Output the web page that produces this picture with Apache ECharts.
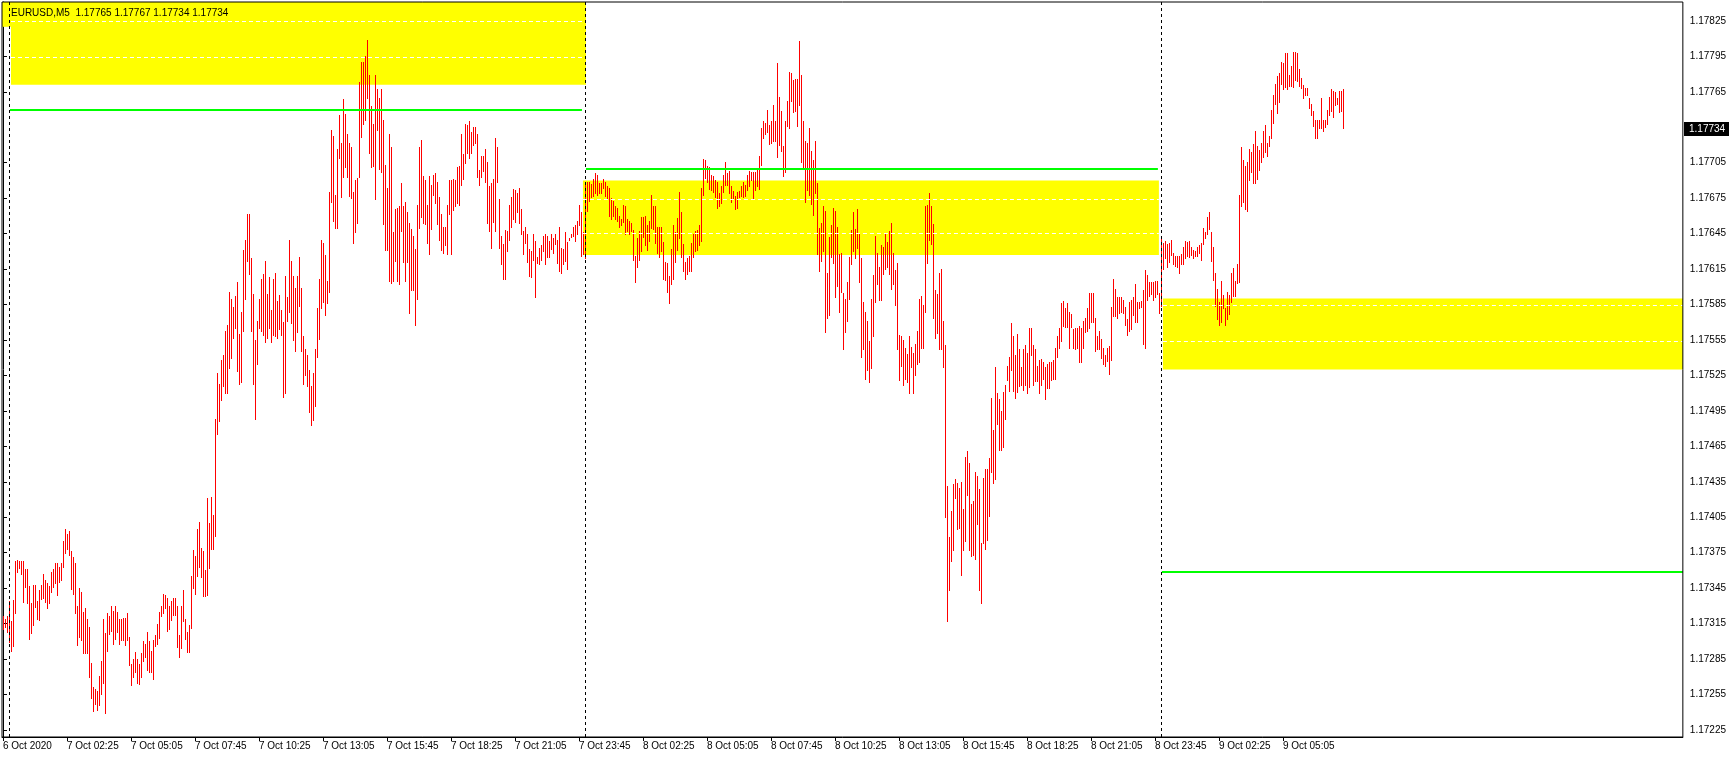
<!DOCTYPE html>
<html>
<head>
<meta charset="utf-8">
<script src="https://cdn.jsdelivr.net/npm/echarts@6/dist/echarts.min.js"></script>
<style>
html,body{margin:0;padding:0;background:#fff;}
#chart{width:1729px;height:759px;}
</style>
</head>
<body>
<div id="chart"></div>
<script>
// EURUSD M5 bars, first bar 6 Oct 2020 23:45, one bar every 5 minutes
const chartTitle = 'EURUSD,M5  1.17765 1.17767 1.17734 1.17734';
const lastPrice = 1.17734;

const highs = [
1.17321,1.17319,1.17321,1.17334,1.17317,1.17335,1.17368,1.17369,1.17368,1.17368,
1.17368,1.17361,1.17361,1.17347,1.17332,1.17348,1.17348,1.17334,1.17343,1.17348,
1.17357,1.17352,1.17349,1.17347,1.17359,1.17361,1.17366,1.17366,1.17363,1.17366,
1.17385,1.17395,1.17391,1.17393,1.17376,1.17371,1.17366,1.17330,1.17345,1.17342,
1.17325,1.17328,1.17319,1.17312,1.17282,1.17261,1.17260,1.17258,1.17271,1.17283,
1.17319,1.17307,1.17324,1.17321,1.17330,1.17326,1.17330,1.17325,1.17319,1.17319,
1.17320,1.17320,1.17324,1.17304,1.17281,1.17285,1.17291,1.17285,1.17281,1.17290,
1.17300,1.17298,1.17308,1.17300,1.17292,1.17301,1.17305,1.17315,1.17325,1.17330,
1.17340,1.17339,1.17337,1.17330,1.17334,1.17337,1.17337,1.17330,1.17305,1.17330,
1.17343,1.17319,1.17308,1.17314,1.17355,1.17377,1.17372,1.17395,1.17401,1.17379,
1.17376,1.17360,1.17421,1.17400,1.17422,1.17407,1.17488,1.17527,1.17518,1.17538,
1.17542,1.17563,1.17568,1.17596,1.17590,1.17583,1.17592,1.17604,1.17560,1.17579,
1.17631,1.17640,1.17662,1.17662,1.17624,1.17594,1.17555,1.17571,1.17590,1.17607,
1.17611,1.17622,1.17594,1.17608,1.17580,1.17607,1.17612,1.17588,1.17593,1.17580,
1.17570,1.17609,1.17591,1.17640,1.17622,1.17609,1.17599,1.17609,1.17625,1.17599,
1.17558,1.17547,1.17542,1.17530,1.17516,1.17527,1.17547,1.17582,1.17607,1.17640,
1.17637,1.17627,1.17605,1.17680,1.17733,1.17728,1.17678,1.17717,1.17745,1.17722,
1.17759,1.17746,1.17729,1.17722,1.17718,1.17680,1.17690,1.17692,1.17773,1.17790,
1.17790,1.17795,1.17809,1.17779,1.17753,1.17738,1.17779,1.17767,1.17760,1.17767,
1.17741,1.17703,1.17684,1.17729,1.17718,1.17646,1.17666,1.17667,1.17668,1.17688,
1.17668,1.17672,1.17663,1.17654,1.17649,1.17643,1.17632,1.17669,1.17718,1.17724,
1.17694,1.17690,1.17669,1.17694,1.17686,1.17695,1.17696,1.17689,1.17676,1.17662,
1.17651,1.17651,1.17669,1.17690,1.17690,1.17691,1.17690,1.17701,1.17702,1.17729,
1.17712,1.17738,1.17737,1.17740,1.17731,1.17735,1.17735,1.17729,1.17699,1.17711,
1.17711,1.17717,1.17706,1.17685,1.17688,1.17691,1.17726,1.17718,1.17674,1.17643,
1.17636,1.17648,1.17647,1.17669,1.17676,1.17683,1.17682,1.17679,1.17684,1.17666,
1.17647,1.17651,1.17645,1.17632,1.17630,1.17645,1.17639,1.17625,1.17633,1.17635,
1.17643,1.17645,1.17643,1.17639,1.17645,1.17641,1.17645,1.17640,1.17651,1.17633,
1.17632,1.17646,1.17638,1.17641,1.17645,1.17651,1.17652,1.17656,1.17669,1.17663,
1.17646,1.17686,1.17689,1.17689,1.17687,1.17691,1.17696,1.17695,1.17688,1.17688,
1.17691,1.17689,1.17685,1.17684,1.17675,1.17673,1.17668,1.17667,1.17660,1.17657,
1.17669,1.17668,1.17657,1.17656,1.17654,1.17648,1.17626,1.17641,1.17647,1.17659,
1.17659,1.17660,1.17652,1.17656,1.17678,1.17668,1.17668,1.17651,1.17651,1.17651,
1.17638,1.17621,1.17620,1.17609,1.17632,1.17652,1.17646,1.17658,1.17680,1.17663,
1.17636,1.17621,1.17624,1.17626,1.17637,1.17645,1.17647,1.17648,1.17652,1.17684,
1.17708,1.17707,1.17702,1.17701,1.17695,1.17694,1.17690,1.17689,1.17679,1.17685,
1.17695,1.17706,1.17696,1.17698,1.17685,1.17681,1.17677,1.17680,1.17681,1.17685,
1.17689,1.17686,1.17695,1.17698,1.17697,1.17697,1.17697,1.17700,1.17711,1.17734,
1.17740,1.17739,1.17750,1.17737,1.17740,1.17754,1.17740,1.17789,1.17761,1.17749,
1.17719,1.17740,1.17757,1.17782,1.17781,1.17775,1.17776,1.17776,1.17808,1.17779,
1.17740,1.17723,1.17722,1.17734,1.17715,1.17707,1.17723,1.17688,1.17650,1.17654,
1.17668,1.17664,1.17612,1.17642,1.17652,1.17667,1.17664,1.17651,1.17628,1.17629,
1.17595,1.17590,1.17604,1.17625,1.17648,1.17663,1.17649,1.17666,1.17645,1.17624,
1.17587,1.17579,1.17571,1.17554,1.17590,1.17610,1.17643,1.17629,1.17617,1.17635,
1.17634,1.17645,1.17638,1.17647,1.17654,1.17629,1.17614,1.17620,1.17559,1.17558,
1.17555,1.17548,1.17543,1.17558,1.17549,1.17544,1.17552,1.17563,1.17590,1.17592,
1.17585,1.17668,1.17669,1.17679,1.17668,1.17653,1.17597,1.17594,1.17612,1.17615,
1.17571,1.17551,1.17431,1.17388,1.17410,1.17433,1.17437,1.17434,1.17430,1.17435,
1.17412,1.17456,1.17461,1.17451,1.17416,1.17419,1.17443,1.17440,1.17429,1.17383,
1.17438,1.17446,1.17446,1.17455,1.17506,1.17479,1.17532,1.17510,1.17505,1.17495,
1.17511,1.17517,1.17533,1.17541,1.17569,1.17558,1.17542,1.17560,1.17547,1.17532,
1.17547,1.17551,1.17544,1.17565,1.17565,1.17551,1.17547,1.17533,1.17538,1.17539,
1.17536,1.17532,1.17535,1.17536,1.17536,1.17538,1.17548,1.17558,1.17565,1.17586,
1.17588,1.17582,1.17586,1.17579,1.17577,1.17564,1.17565,1.17565,1.17567,1.17565,
1.17571,1.17574,1.17582,1.17595,1.17595,1.17595,1.17574,1.17558,1.17563,1.17556,
1.17548,1.17542,1.17548,1.17550,1.17583,1.17607,1.17598,1.17591,1.17591,1.17591,
1.17589,1.17583,1.17573,1.17587,1.17589,1.17591,1.17602,1.17587,1.17587,1.17588,
1.17597,1.17614,1.17610,1.17604,1.17604,1.17604,1.17605,1.17605,1.17595,1.17641,
1.17637,1.17639,1.17636,1.17637,1.17640,1.17629,1.17626,1.17626,1.17626,1.17628,
1.17634,1.17639,1.17638,1.17639,1.17634,1.17631,1.17630,1.17634,1.17635,1.17637,
1.17650,1.17646,1.17659,1.17663,1.17646,1.17634,1.17612,1.17598,1.17587,1.17605,
1.17593,1.17582,1.17596,1.17593,1.17612,1.17616,1.17605,1.17619,1.17678,1.17718,
1.17707,1.17702,1.17706,1.17717,1.17714,1.17721,1.17732,1.17719,1.17716,1.17722,
1.17732,1.17737,1.17722,1.17728,1.17750,1.17762,1.17772,1.17778,1.17781,1.17790,
1.17789,1.17798,1.17798,1.17779,1.17787,1.17799,1.17799,1.17798,1.17784,1.17777,
1.17771,1.17768,1.17768,1.17760,1.17755,1.17749,1.17741,1.17741,1.17741,1.17760,
1.17741,1.17741,1.17750,1.17761,1.17767,1.17766,1.17765,1.17760,1.17766,1.17766,
1.17767
];

const lows = [
1.17310,1.17312,1.17308,1.17299,1.17292,1.17296,1.17324,1.17359,1.17362,1.17357,
1.17333,1.17346,1.17332,1.17302,1.17307,1.17314,1.17329,1.17319,1.17318,1.17336,
1.17337,1.17333,1.17328,1.17332,1.17342,1.17346,1.17349,1.17339,1.17350,1.17352,
1.17363,1.17375,1.17378,1.17373,1.17344,1.17340,1.17324,1.17297,1.17304,1.17301,
1.17290,1.17290,1.17290,1.17270,1.17252,1.17241,1.17247,1.17242,1.17246,1.17255,
1.17265,1.17239,1.17292,1.17306,1.17309,1.17298,1.17302,1.17308,1.17298,1.17301,
1.17301,1.17297,1.17301,1.17280,1.17263,1.17270,1.17274,1.17265,1.17264,1.17270,
1.17283,1.17287,1.17276,1.17274,1.17274,1.17268,1.17296,1.17298,1.17303,1.17321,
1.17324,1.17328,1.17309,1.17310,1.17318,1.17322,1.17322,1.17295,1.17287,1.17294,
1.17317,1.17302,1.17291,1.17291,1.17311,1.17345,1.17340,1.17355,1.17363,1.17354,
1.17338,1.17338,1.17339,1.17362,1.17378,1.17378,1.17389,1.17475,1.17486,1.17504,
1.17516,1.17510,1.17510,1.17531,1.17540,1.17557,1.17565,1.17529,1.17518,1.17519,
1.17563,1.17590,1.17622,1.17611,1.17563,1.17518,1.17488,1.17535,1.17565,1.17563,
1.17559,1.17553,1.17557,1.17565,1.17553,1.17559,1.17558,1.17557,1.17564,1.17559,
1.17507,1.17510,1.17571,1.17579,1.17569,1.17555,1.17546,1.17562,1.17584,1.17546,
1.17518,1.17525,1.17516,1.17494,1.17483,1.17487,1.17499,1.17541,1.17556,1.17582,
1.17587,1.17576,1.17586,1.17596,1.17672,1.17656,1.17650,1.17650,1.17709,1.17676,
1.17693,1.17701,1.17693,1.17677,1.17675,1.17637,1.17646,1.17654,1.17693,1.17727,
1.17738,1.17741,1.17760,1.17713,1.17701,1.17702,1.17674,1.17733,1.17700,1.17697,
1.17653,1.17631,1.17631,1.17605,1.17603,1.17605,1.17622,1.17605,1.17602,1.17647,
1.17621,1.17605,1.17621,1.17578,1.17597,1.17597,1.17568,1.17590,1.17650,1.17659,
1.17654,1.17653,1.17637,1.17628,1.17649,1.17678,1.17671,1.17653,1.17640,1.17631,
1.17629,1.17635,1.17628,1.17662,1.17628,1.17665,1.17668,1.17671,1.17669,1.17686,
1.17691,1.17705,1.17713,1.17709,1.17713,1.17720,1.17722,1.17693,1.17686,1.17693,
1.17698,1.17689,1.17654,1.17647,1.17633,1.17655,1.17647,1.17689,1.17633,1.17619,
1.17607,1.17607,1.17630,1.17640,1.17651,1.17657,1.17655,1.17663,1.17654,1.17645,
1.17628,1.17637,1.17621,1.17609,1.17608,1.17623,1.17591,1.17620,1.17619,1.17623,
1.17630,1.17619,1.17625,1.17625,1.17632,1.17629,1.17636,1.17620,1.17613,1.17612,
1.17619,1.17622,1.17615,1.17640,1.17642,1.17643,1.17639,1.17645,1.17652,1.17626,
1.17628,1.17624,1.17664,1.17673,1.17676,1.17677,1.17679,1.17678,1.17679,1.17679,
1.17684,1.17677,1.17675,1.17660,1.17657,1.17660,1.17657,1.17656,1.17651,1.17652,
1.17655,1.17645,1.17647,1.17645,1.17647,1.17623,1.17604,1.17617,1.17623,1.17630,
1.17642,1.17635,1.17631,1.17639,1.17650,1.17649,1.17637,1.17629,1.17625,1.17630,
1.17607,1.17606,1.17596,1.17586,1.17602,1.17607,1.17621,1.17631,1.17641,1.17625,
1.17613,1.17607,1.17611,1.17613,1.17613,1.17625,1.17630,1.17631,1.17635,1.17639,
1.17678,1.17692,1.17689,1.17683,1.17682,1.17680,1.17676,1.17667,1.17668,1.17671,
1.17680,1.17686,1.17686,1.17679,1.17672,1.17674,1.17666,1.17667,1.17676,1.17677,
1.17676,1.17677,1.17682,1.17685,1.17690,1.17674,1.17682,1.17685,1.17683,1.17703,
1.17726,1.17729,1.17731,1.17721,1.17722,1.17723,1.17723,1.17710,1.17720,1.17715,
1.17694,1.17697,1.17736,1.17734,1.17757,1.17748,1.17749,1.17736,1.17754,1.17706,
1.17701,1.17672,1.17682,1.17678,1.17670,1.17661,1.17679,1.17628,1.17613,1.17622,
1.17630,1.17562,1.17574,1.17576,1.17625,1.17620,1.17591,1.17601,1.17579,1.17596,
1.17547,1.17562,1.17571,1.17590,1.17619,1.17630,1.17624,1.17633,1.17604,1.17541,
1.17547,1.17522,1.17530,1.17519,1.17531,1.17558,1.17587,1.17602,1.17589,1.17589,
1.17611,1.17615,1.17617,1.17611,1.17598,1.17602,1.17585,1.17547,1.17521,1.17533,
1.17517,1.17522,1.17519,1.17510,1.17532,1.17510,1.17525,1.17535,1.17536,1.17548,
1.17548,1.17579,1.17620,1.17640,1.17636,1.17574,1.17557,1.17561,1.17547,1.17547,
1.17532,1.17405,1.17317,1.17343,1.17368,1.17377,1.17421,1.17395,1.17396,1.17356,
1.17377,1.17385,1.17424,1.17377,1.17372,1.17373,1.17370,1.17399,1.17343,1.17332,
1.17383,1.17378,1.17386,1.17406,1.17443,1.17434,1.17437,1.17484,1.17462,1.17462,
1.17464,1.17488,1.17521,1.17512,1.17530,1.17512,1.17506,1.17511,1.17516,1.17517,
1.17513,1.17517,1.17510,1.17515,1.17542,1.17517,1.17520,1.17520,1.17510,1.17517,
1.17522,1.17505,1.17514,1.17514,1.17521,1.17522,1.17522,1.17541,1.17548,1.17554,
1.17567,1.17566,1.17566,1.17548,1.17566,1.17548,1.17547,1.17548,1.17536,1.17536,
1.17548,1.17562,1.17563,1.17565,1.17570,1.17570,1.17546,1.17547,1.17547,1.17540,
1.17535,1.17533,1.17537,1.17526,1.17538,1.17575,1.17575,1.17574,1.17578,1.17579,
1.17578,1.17568,1.17559,1.17563,1.17564,1.17576,1.17570,1.17570,1.17582,1.17583,
1.17552,1.17548,1.17589,1.17592,1.17594,1.17589,1.17591,1.17594,1.17578,1.17584,
1.17615,1.17624,1.17617,1.17621,1.17627,1.17619,1.17618,1.17617,1.17612,1.17619,
1.17619,1.17624,1.17626,1.17625,1.17627,1.17624,1.17626,1.17626,1.17629,1.17623,
1.17636,1.17641,1.17645,1.17649,1.17622,1.17606,1.17584,1.17573,1.17568,1.17570,
1.17582,1.17568,1.17573,1.17577,1.17587,1.17592,1.17592,1.17603,1.17604,1.17668,
1.17672,1.17666,1.17664,1.17690,1.17697,1.17688,1.17688,1.17691,1.17699,1.17706,
1.17710,1.17714,1.17711,1.17719,1.17726,1.17739,1.17755,1.17747,1.17756,1.17772,
1.17767,1.17769,1.17767,1.17770,1.17770,1.17769,1.17775,1.17774,1.17770,1.17768,
1.17760,1.17762,1.17762,1.17751,1.17745,1.17736,1.17726,1.17726,1.17734,1.17734,
1.17732,1.17735,1.17738,1.17745,1.17749,1.17744,1.17754,1.17755,1.17748,1.17749,
1.17734
];

// x-axis ticks (bar index) and their labels
const xTickBars = [0,32,64,96,128,160,192,224,256,288,320,352,384,416,448,480,512,544,576,608,640];
const xTickLabels = ['6 Oct 2020','7 Oct 02:25','7 Oct 05:05','7 Oct 07:45','7 Oct 10:25','7 Oct 13:05',
  '7 Oct 15:45','7 Oct 18:25','7 Oct 21:05','7 Oct 23:45','8 Oct 02:25','8 Oct 05:05','8 Oct 07:45',
  '8 Oct 10:25','8 Oct 13:05','8 Oct 15:45','8 Oct 18:25','8 Oct 21:05','8 Oct 23:45','9 Oct 02:25','9 Oct 05:05'];
// y-axis tick labels
const yTickLabels = ['1.17225','1.17255','1.17285','1.17315','1.17345','1.17375','1.17405','1.17435',
  '1.17465','1.17495','1.17525','1.17555','1.17585','1.17615','1.17645','1.17675','1.17705',
  '1.17765','1.17795','1.17825'];

// day separators: bar index of 7 Oct, 8 Oct, 9 Oct 00:00
const daySeparators = [3, 291, 579];

// yellow zones: [fromBar, toBar, upper price, lower price]
const zoneFrom  = [-0.5, 4, 290, 580];
const zoneTo    = [4, 291.5, 578, 840];
const zoneUpper = [1.17841, 1.17841, 1.17690, 1.17590];
const zoneLower = [1.17820, 1.17771, 1.17627, 1.17530];
// white dashed levels inside zones
const dashFrom  = [4, 4, 290, 290, 580, 580];
const dashTo    = [291.5, 291.5, 578, 578, 840, 840];
const dashPrice = [1.17825, 1.17794, 1.17674, 1.17645, 1.17584, 1.17554];
// green levels
const levelFrom  = [3.5, 291.5, 579.5];
const levelTo    = [289.5, 577.5, 840];
const levelPrice = [1.17750, 1.17700, 1.17359];

const X_MIN = -0.5, X_MAX = 840, Y_MIN = 1.17219, Y_MAX = 1.17841;
const FONT = 'Liberation Sans, Arial, sans-serif';

const chart = echarts.init(document.getElementById('chart'), null, {renderer: 'canvas'});

const barData = highs.map((h, i) => [i, lows[i], h]);

const option = {
  animation: false,
  backgroundColor: '#ffffff',
  title: {
    text: chartTitle, left: 6, top: 3,
    textStyle: {fontSize: 10, fontWeight: 'normal', color: '#000', fontFamily: FONT}
  },
  grid: {left: 2, top: 2, width: 1681, height: 735, show: true, borderColor: '#000', borderWidth: 1, backgroundColor: 'transparent', z: 10},
  xAxis: {
    type: 'value', min: X_MIN, max: X_MAX,
    axisLine: {show: true, lineStyle: {color: '#000', width: 1}},
    axisTick: {show: true, length: 4, lineStyle: {color: '#000'}, customValues: xTickBars},
    splitLine: {show: false},
    axisLabel: {
      customValues: xTickBars, align: 'left', margin: 4, color: '#000', fontSize: 10, fontFamily: FONT,
      formatter: v => { const k = xTickBars.indexOf(Math.round(v)); return k >= 0 ? xTickLabels[k] : ''; }
    }
  },
  yAxis: {
    type: 'value', position: 'right', min: Y_MIN, max: Y_MAX, scale: true,
    axisLine: {show: true, lineStyle: {color: '#000', width: 1}},
    axisTick: {show: true, length: 4, lineStyle: {color: '#000'}, customValues: yTickLabels.map(Number)},
    splitLine: {show: false},
    axisLabel: {
      customValues: yTickLabels.map(Number), margin: 7, color: '#000', fontSize: 10, fontFamily: FONT,
      formatter: v => Number(v).toFixed(5)
    }
  },
  series: [
    {
      name: 'zones', type: 'line', data: [], z: 1, silent: true,
      markArea: {
        silent: true,
        itemStyle: {color: '#ffff00', opacity: 1},
        data: zoneFrom.map((f, k) => [{coord: [f, zoneUpper[k]]}, {coord: [zoneTo[k], zoneLower[k]]}])
      },
      markLine: {
        silent: true, symbol: ['none', 'none'], label: {show: false},
        lineStyle: {color: '#ffffff', width: 1, type: [4, 3]},
        data: dashFrom.map((f, k) => [{coord: [f, dashPrice[k]]}, {coord: [dashTo[k], dashPrice[k]]}])
      }
    },
    {
      name: 'EURUSD', type: 'custom', z: 2, data: barData, clip: true,
      encode: {x: 0, y: [1, 2]},
      renderItem: function (params, api) {
        const i = api.value(0);
        const pLow = api.coord([i, api.value(1)]);
        const pHigh = api.coord([i, api.value(2)]);
        const x = Math.round(pLow[0]) + 0.5;
        let y1 = Math.round(pLow[1]) + 1;
        let y2 = Math.round(pHigh[1]);
        if (y1 - y2 < 1) y1 = y2 + 1;
        return {
          type: 'line',
          shape: {x1: x, y1: y1, x2: x, y2: y2},
          style: {stroke: '#ff0000', lineWidth: 1}
        };
      }
    },
    {
      name: 'levels', type: 'line', data: [], z: 3, silent: true,
      markLine: {
        silent: true, symbol: ['none', 'none'], label: {show: false},
        lineStyle: {color: '#00ff00', width: 2, type: 'solid'},
        data: levelFrom.map((f, k) => [{coord: [f, levelPrice[k]]}, {coord: [levelTo[k], levelPrice[k]]}])
      }
    },
    {
      name: 'separators', type: 'line', data: [], z: 4, silent: true,
      markLine: {
        silent: true, symbol: ['none', 'none'], label: {show: false},
        lineStyle: {color: '#000000', width: 1, type: [3, 3]},
        // +0.25 bar = half a pixel, keeps the 1px dashed line crisp
        data: daySeparators.map(b => ({xAxis: b + 0.25}))
      }
    },
    {
      name: 'price', type: 'custom', z: 20, clip: false, silent: true,
      data: [[X_MAX, lastPrice]],
      encode: {x: 0, y: 1},
      renderItem: function (params, api) {
        const p = api.coord([api.value(0), api.value(1)]);
        const x0 = Math.round(p[0]) + 1;
        const yc = Math.round(p[1]) + 1;
        return {
          type: 'group',
          children: [
            {type: 'rect', shape: {x: x0, y: yc - 7, width: 45, height: 14}, style: {fill: '#000000'}},
            {type: 'text', x: x0 + 5, y: yc, style: {
              text: api.value(1).toFixed(5), fill: '#ffffff',
              font: '10px Liberation Sans, Arial, sans-serif', verticalAlign: 'middle', align: 'left'
            }}
          ]
        };
      }
    }
  ]
};

chart.setOption(option);
</script>
</body>
</html>
